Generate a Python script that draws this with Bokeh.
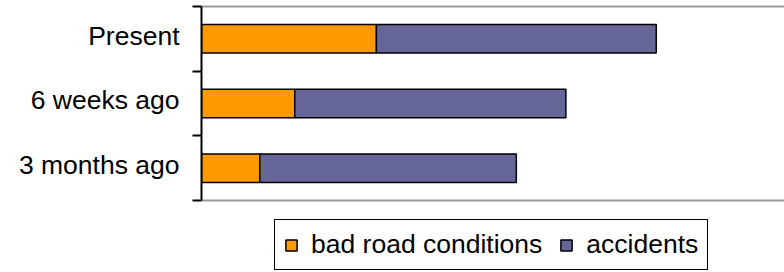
from bokeh.plotting import figure
from bokeh.models import (FixedTicker, LinearAxis, Legend, LegendItem, Range1d,
                          ColumnDataSource)
from bokeh.embed import file_html
from bokeh.resources import INLINE

periods = ["3 months ago", "6 weeks ago", "Present"]
bad_road = [10, 16, 30]
accidents = [44, 46.5, 48]
series = ["bad road conditions", "accidents"]
colors = ["#FF9900", "#666699"]

pos = [i + 0.5 for i in range(len(periods))]
bounds = [i for i in range(len(periods) + 1)]
label_pos = [v + 0.05 for v in pos]   # labels sit slightly above bar centres

src = ColumnDataSource(dict(y=pos, bad=bad_road, acc=accidents))

FONT = "Liberation Sans"

# layout (px): figure 784x272, category area 194 px tall, legend strip 72 px below it
W, H = 784, 272
TOP, CAT_H, STRIP = 6, 194, 72
n = len(periods)
y_low = -n * STRIP / CAT_H

p = figure(width=W, height=H, x_range=Range1d(0, 100), y_range=Range1d(y_low, n),
           output_backend="svg", toolbar_location=None, x_axis_location=None,
           min_border_left=201, min_border_right=0, min_border_top=TOP,
           min_border_bottom=0)
p.outline_line_color = None
p.xgrid.visible = False
p.ygrid.visible = False
p.background_fill_color = "white"
p.border_fill_color = "white"

rs = p.hbar_stack(["bad", "acc"], y="y", height=0.44, color=colors, source=src,
                  line_color="black", line_width=1.5)

# bottom gray frame line of the category area
p.hspan(y=[0], line_color="#999999", line_width=2)

# top gray frame line
xt = LinearAxis(ticker=FixedTicker(ticks=[]), axis_line_color="#999999",
                axis_line_width=2, major_tick_line_color=None,
                minor_tick_line_color=None, major_label_text_font_size="0px",
                major_tick_out=0, major_label_standoff=0)
p.add_layout(xt, "above")

ya = p.yaxis[0]
ya.bounds = (0, n)
ya.ticker = FixedTicker(ticks=label_pos, minor_ticks=bounds)
ya.major_label_overrides = {pv: lab for pv, lab in zip(label_pos, periods)}
ya.axis_line_color = "black"
ya.axis_line_width = 2
ya.major_tick_line_color = None
ya.major_tick_out = 0
ya.major_tick_in = 0
ya.minor_tick_line_color = "black"
ya.minor_tick_line_width = 2
ya.minor_tick_out = 9
ya.minor_tick_in = 0
ya.major_label_standoff = 13
ya.major_label_text_font = FONT
ya.major_label_text_font_size = "26.5px"
ya.major_label_text_color = "black"

legend = Legend(items=[LegendItem(label=series[0], renderers=[rs[0]]),
                       LegendItem(label=series[1], renderers=[rs[1]])],
                orientation="horizontal", location=(73, 2),
                border_line_color="black", border_line_width=1.5,
                border_line_alpha=1.0,
                label_text_font=FONT, label_text_font_size="26.5px",
                label_text_color="black",
                glyph_width=14, glyph_height=14, label_standoff=13,
                spacing=17, padding=9, margin=0)
p.add_layout(legend, "center")

open("out.html", "w").write(file_html(p, INLINE))
